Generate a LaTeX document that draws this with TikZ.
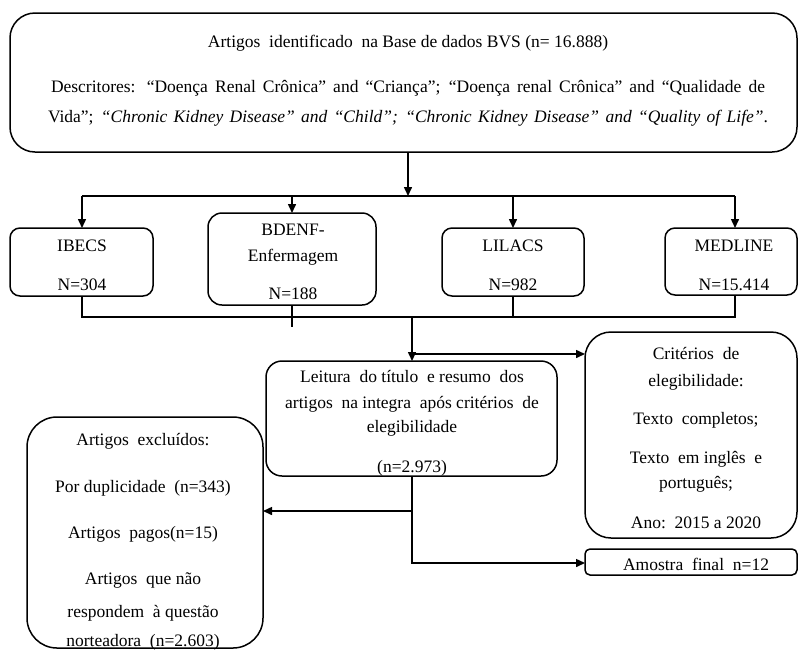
\documentclass[tikz,border=0pt]{standalone}
\usepackage{fontspec}
\setmainfont{Liberation Serif}
\usetikzlibrary{arrows.meta}
\begin{document}
\begin{tikzpicture}[x=1pt,y=-1pt,
  box/.style={draw, line width=1.5pt, rounded corners=#1, inner sep=0pt, outer sep=0pt},
  box/.default=10pt,
  txt/.style={align=center, inner sep=0pt, font=\fontsize{17.5}{26}\selectfont},
  link/.style={line width=1.5pt},
  arr/.style={line width=1.5pt, -{Triangle[length=9pt,width=8pt]}},
]
\useasboundingbox (0,0) rectangle (799,651);

% ---- boxes ----
\node[box=25pt, minimum width=787pt, minimum height=139pt] (top) at (403.5,82.5) {};
\node[box=10pt, minimum width=143pt, minimum height=68pt] (ibecs) at (81.5,262) {};
\node[box=14pt, minimum width=168pt, minimum height=92pt] (bdenf) at (292,259) {};
\node[box=10pt, minimum width=142pt, minimum height=68pt] (lilacs) at (513,262) {};
\node[box=10pt, minimum width=132pt, minimum height=67pt] (medline) at (731,261.5) {};
\node[box=16pt, minimum width=291pt, minimum height=115pt] (leitura) at (411.5,418.5) {};
\node[box=26pt, minimum width=212pt, minimum height=206pt] (criterios) at (691,435) {};
\node[box=5pt, minimum width=212pt, minimum height=26pt] (amostra) at (691,562) {};
\node[box=30pt, minimum width=236pt, minimum height=231pt] (excl) at (145,532.5) {};

% ---- texts ----
\node[txt] (top-t) at (408,80.5) {Artigos\ \ identificado\ \ na Base de dados BVS (n= 16.888)\\[19pt]
  \makebox[714pt][s]{Descritores: “Doença Renal Crônica” and “Criança”; “Doença renal Crônica” and “Qualidade de}\\[4pt]
  \makebox[720pt][s]{Vida”; \textit{“Chronic Kidney Disease” and “Child”; “Chronic Kidney Disease” and “Quality of Life”}.}};
\node[txt] (ibecs-t) at (82,265) {IBECS\\[13pt]N=304};
\node[txt] (bdenf-t) at (293,262) {BDENF-\\Enfermagem\\[12pt]N=188};
\node[txt] (lilacs-t) at (513,265) {LILACS\\[13pt]N=982};
\node[txt] (medline-t) at (734,265) {MEDLINE\\[13pt]N=15.414};
\node[txt] (leitura-t) at (412,423) {Leitura\ \ do título\ \ e resumo\ \ dos\\artigos\ \ na integra\ \ após critérios\ \ de\\[-2pt]elegibilidade\\[14pt](n=2.973)};
\node[txt] (criterios-t) at (696,438.5) {Critérios\ \ de\\[1pt]elegibilidade:\\[12pt]Texto\ \ completos;\\[13pt]Texto\ \ em inglês\ \ e\\[-1pt]português;\\[14pt]Ano:\ \ 2015 a 2020};
\node[txt] (amostra-t) at (696,564) {Amostra\ \ final\ \ n=12};
\node[txt, font=\fontsize{17.5}{29}\selectfont] (excl-t) at (143,541.5) {Artigos\ \ excluídos:\\[18pt]Por duplicidade\ \ (n=343)\\[17pt]Artigos\ \ pagos(n=15)\\[17pt]Artigos\ \ que não\\[4pt]respondem\ \ à questão\\norteadora\ \ (n=2.603)};

% ---- junction points ----
\coordinate (j0) at (408,196);
\coordinate (d1) at (82,196);
\coordinate (d2) at (292,196);
\coordinate (d3) at (513,196);
\coordinate (d4) at (735,196);
\coordinate (u1) at (82,317);
\coordinate (u4) at (735,317);
\coordinate (btail) at (292,327);
\coordinate (m1) at (412,317);
\coordinate (m2) at (412,354);
\coordinate (m3) at (412,511);
\coordinate (m4) at (412,563);

% ---- connectors ----
\draw[arr] (top.south -| j0) -- (j0);
\draw[link] (d1) -- (d4);
\draw[arr] (d1) -- (d1 |- ibecs.north);
\draw[arr] (d2) -- (d2 |- bdenf.north);
\draw[arr] (d3) -- (d3 |- lilacs.north);
\draw[arr] (d4) -- (d4 |- medline.north);

\draw[link] (ibecs.south -| u1) -- (u1) -- (u4) -- (medline.south -| u4);
\draw[link] (lilacs.south) -- (lilacs.south |- u1);
\draw[link] (bdenf.south) -- (btail);

\draw[arr] (m1) -- (m1 |- leitura.north);
\draw[arr] (m2) -- (m2 -| criterios.west);
\draw[arr] (leitura.south -| m4) -- (m4) -- (m4 -| amostra.west);
\draw[arr] (m3) -- (m3 -| excl.east);
\end{tikzpicture}
\end{document}
